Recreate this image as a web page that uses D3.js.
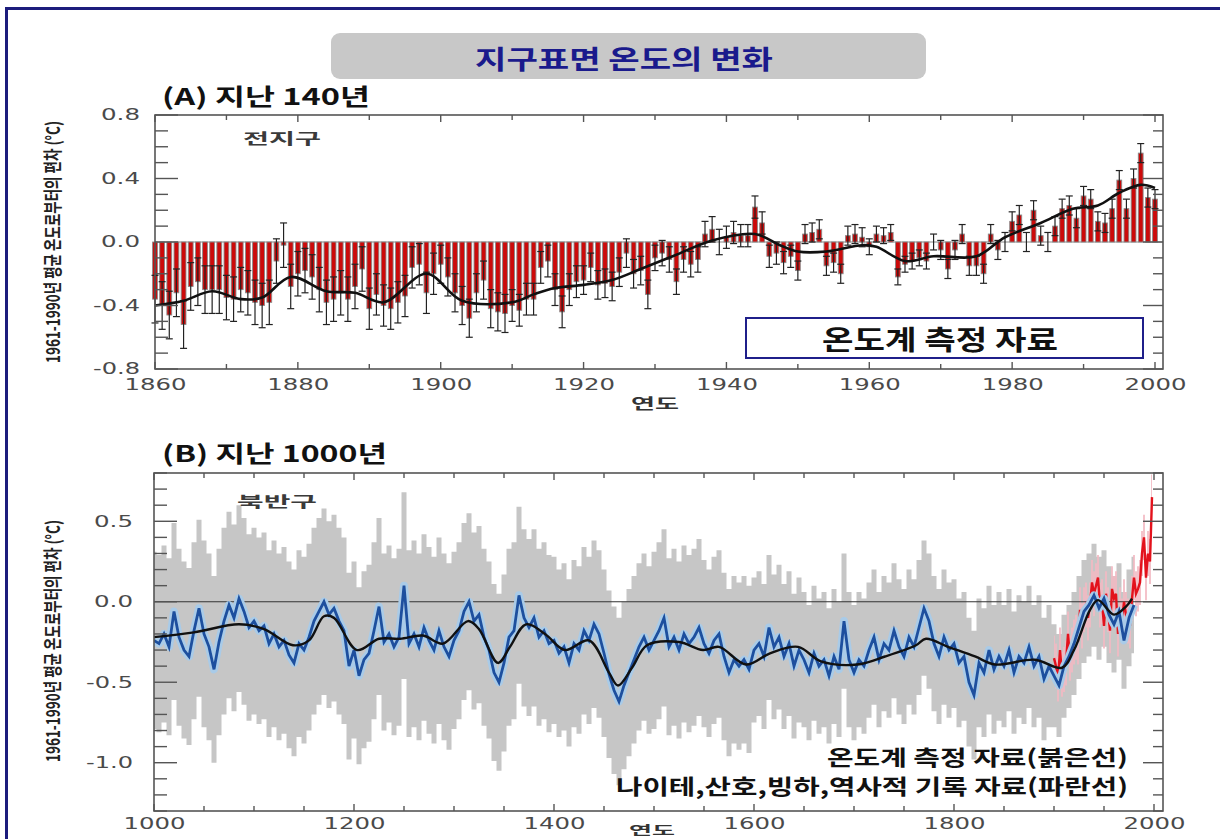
<!DOCTYPE html>
<html>
<head>
<meta charset="utf-8">
<script src="https://cdn.jsdelivr.net/npm/d3@7"></script>
<style>
  body { margin: 0; background: #fff; }
  svg { display: block; }
</style>
</head>
<body>
<div id="chart"></div>
<script>
// ---------- data ----------
// (A) global annual anomaly, 1860-2000 (one value per year)
const firstYearA = 1860;
const anomA = [
  -0.36, -0.40, -0.46, -0.32, -0.52, -0.28, -0.25, -0.30, -0.30, -0.30,
  -0.35, -0.36, -0.30, -0.32, -0.38, -0.40, -0.38, -0.12, -0.02, -0.28,
  -0.20, -0.18, -0.22, -0.30, -0.38, -0.36, -0.32, -0.36, -0.28, -0.17,
  -0.42, -0.33, -0.40, -0.42, -0.38, -0.34, -0.16, -0.14, -0.32, -0.20,
  -0.14, -0.22, -0.32, -0.40, -0.48, -0.32, -0.24, -0.42, -0.44, -0.45,
  -0.40, -0.43, -0.36, -0.36, -0.16, -0.12, -0.30, -0.44, -0.30, -0.25,
  -0.24, -0.16, -0.27, -0.26, -0.28, -0.19, -0.07, -0.20, -0.18, -0.33,
  -0.10, -0.07, -0.11, -0.25, -0.11, -0.14, -0.11, 0.05, 0.08, 0.00,
  0.03, 0.06, 0.04, 0.04, 0.22, 0.12, -0.09, -0.07, -0.13, -0.09,
  -0.18, 0.05, 0.06, 0.08, -0.15, -0.13, -0.20, 0.04, 0.05, 0.03,
  -0.03, 0.05, 0.04, 0.06, -0.22, -0.14, -0.12, -0.10, -0.12, 0.00,
  -0.05, -0.17, -0.05, 0.05, -0.15, -0.15, -0.20, 0.05, -0.05, 0.00,
  0.13, 0.17, 0.00, 0.20, 0.04, 0.00, 0.10, 0.21, 0.23, 0.15,
  0.29, 0.27, 0.13, 0.12, 0.21, 0.39, 0.21, 0.40, 0.56, 0.28,
  0.27
];
// error-bar half width per decade (1860s ... 2000)
const errA = [0.15, 0.14, 0.14, 0.13, 0.12, 0.10, 0.09, 0.08, 0.07, 0.06, 0.05, 0.06, 0.06, 0.06, 0.06];
// smoothed curve (year, value)
const smoothA = [
  [1860, -0.40], [1864, -0.37], [1868, -0.31], [1872, -0.36], [1875, -0.35], [1879, -0.22],
  [1884, -0.31], [1888, -0.32], [1892, -0.38], [1898, -0.20], [1903, -0.37], [1910, -0.38],
  [1913, -0.33], [1916, -0.29], [1920, -0.27], [1924, -0.24], [1928, -0.17], [1933, -0.08],
  [1938, 0.01], [1944, 0.05], [1947.5, -0.02], [1950, -0.06], [1954, -0.06], [1959, -0.02],
  [1961, -0.03], [1965, -0.12], [1969, -0.09], [1975, -0.09], [1979, 0.03], [1984, 0.12],
  [1988.5, 0.21], [1992, 0.23], [1995, 0.31], [1998, 0.36], [2000, 0.34]
];
const yTicksA = [-0.8, -0.4, 0.0, 0.4, 0.8];
const xTicksA = [1860, 1880, 1900, 1920, 1940, 1960, 1980, 2000];

// (B) northern hemisphere reconstruction, 1000-1980, one value every 5 years
const firstYearB = 1000, stepB = 5;
const proxyB = [
  -0.24, -0.26, -0.20, -0.28, -0.06, -0.22, -0.30, -0.34, -0.18, -0.04,
  -0.20, -0.28, -0.42, -0.25, -0.12, -0.02, -0.10, 0.02, -0.06, -0.16,
  -0.12, -0.18, -0.15, -0.26, -0.20, -0.28, -0.24, -0.33, -0.38, -0.26,
  -0.30, -0.22, -0.12, -0.06, 0.00, -0.08, -0.04, -0.12, -0.18, -0.40,
  -0.30, -0.46, -0.36, -0.32, -0.18, -0.03, -0.25, -0.20, -0.28, -0.22,
  0.10, -0.26, -0.20, -0.28, -0.16, -0.24, -0.30, -0.18, -0.28, -0.34,
  -0.24, -0.18, -0.06, 0.00, -0.12, -0.08, -0.22, -0.30, -0.44, -0.50,
  -0.38, -0.22, -0.18, 0.04, -0.10, -0.16, -0.10, -0.22, -0.18, -0.26,
  -0.24, -0.32, -0.28, -0.38, -0.26, -0.30, -0.18, -0.24, -0.14, -0.20,
  -0.32, -0.45, -0.55, -0.62, -0.52, -0.44, -0.36, -0.28, -0.22, -0.30,
  -0.24, -0.18, -0.10, -0.28, -0.22, -0.30, -0.20, -0.26, -0.22, -0.16,
  -0.26, -0.32, -0.24, -0.20, -0.34, -0.44, -0.36, -0.40, -0.36, -0.42,
  -0.30, -0.26, -0.34, -0.16, -0.28, -0.22, -0.34, -0.26, -0.40, -0.30,
  -0.36, -0.44, -0.32, -0.40, -0.36, -0.46, -0.34, -0.42, -0.12, -0.36,
  -0.44, -0.36, -0.40, -0.30, -0.22, -0.36, -0.26, -0.30, -0.18, -0.28,
  -0.34, -0.22, -0.28, -0.16, -0.04, -0.12, -0.26, -0.34, -0.22, -0.30,
  -0.26, -0.38, -0.34, -0.50, -0.58, -0.38, -0.44, -0.30, -0.42, -0.34,
  -0.40, -0.30, -0.44, -0.34, -0.38, -0.28, -0.40, -0.34, -0.48, -0.40,
  -0.46, -0.52, -0.40, -0.34, -0.26, -0.16, -0.06, -0.02, 0.04, -0.04,
  0.02, -0.08, -0.14, -0.06, -0.24, -0.10, -0.02
];
// 2-sigma half width of the grey band, one value per 50 years (1000 ... 1950)
const sigmaB = [0.55, 0.58, 0.58, 0.58, 0.55, 0.58, 0.55, 0.55, 0.52, 0.52,
                0.55, 0.52, 0.45, 0.42, 0.42, 0.42, 0.40, 0.38, 0.32, 0.30];
// smoothed reconstruction (year, value)
const smoothB = [
  [1000, -0.22], [1040, -0.19], [1085, -0.14], [1110, -0.17], [1139, -0.27], [1155, -0.24],
  [1170, -0.09], [1180, -0.10], [1203, -0.30], [1225, -0.23], [1246, -0.23], [1269, -0.21],
  [1289, -0.26], [1314, -0.12], [1325, -0.17], [1344, -0.38], [1356, -0.28], [1372, -0.14],
  [1391, -0.20], [1411, -0.30], [1435, -0.24], [1455, -0.44], [1464, -0.52], [1478, -0.41],
  [1493, -0.27], [1525, -0.25], [1549, -0.30], [1565, -0.28], [1592, -0.39], [1616, -0.32],
  [1644, -0.28], [1667, -0.37], [1703, -0.39], [1731, -0.34], [1762, -0.27], [1772, -0.23],
  [1794, -0.28], [1821, -0.34], [1841, -0.39], [1881, -0.36], [1908, -0.41], [1920, -0.30],
  [1936, -0.05], [1944, 0.01], [1960, -0.08], [1972, -0.03], [1978, 0.02]
];
// instrumental NH record, 1900-1998, every 2 years
const firstYearRed = 1900, stepRed = 2;
const instrB = [
  -0.35, -0.40, -0.48, -0.30, -0.45, -0.42, -0.38, -0.20, -0.35, -0.30,
  -0.25, -0.22, -0.25, -0.05, -0.15, -0.05, -0.02, -0.10, -0.02, 0.12,
  0.05, 0.10, 0.15, -0.02, 0.00, -0.15, 0.05, -0.05, -0.18, 0.08,
  0.02, 0.05, -0.20, -0.05, -0.12, 0.00, -0.08, -0.12, -0.15, 0.02,
  0.15, 0.05, 0.08, 0.12, 0.30, 0.40, 0.15, 0.30, 0.25, 0.65
];
const instrSigma = 0.14;
const yTicksB = [-1.0, -0.5, 0.0, 0.5];
const xTicksB = [1000, 1200, 1400, 1600, 1800, 2000];

// ---------- drawing ----------
const W = 1220, H = 839;
const KR = "'Noto Sans CJK KR', 'Noto Sans', sans-serif";
const NUM = "'DejaVu Sans', sans-serif";

const svg = d3.select("#chart").append("svg")
  .attr("width", W).attr("height", H)
  .attr("viewBox", `0 0 ${W} ${H}`);

// outer navy frame
svg.append("rect")
  .attr("x", 6.5).attr("y", 8.5)
  .attr("width", W + 20).attr("height", H + 20)
  .attr("fill", "none").attr("stroke", "#1c1c7c").attr("stroke-width", 3);

// title plate
svg.append("rect")
  .attr("x", 331).attr("y", 33).attr("width", 595).attr("height", 46)
  .attr("rx", 9).attr("fill", "#c8c8c8");
svg.append("text")
  .attr("x", 624).attr("y", 57)
  .attr("text-anchor", "middle").attr("dominant-baseline", "central")
  .attr("font-family", KR).attr("font-size", 26).attr("font-weight", 700)
  .attr("fill", "#1a1a8c")
  .attr("textLength", 298).attr("lengthAdjust", "spacingAndGlyphs")
  .text("지구표면 온도의 변화");

function label(x, y, txt, opts) {
  const t = svg.append("text")
    .attr("x", x).attr("y", y)
    .attr("dominant-baseline", "central")
    .attr("font-family", opts.family || KR)
    .attr("font-size", opts.size)
    .attr("font-weight", opts.weight || 400)
    .attr("fill", opts.fill || "#111")
    .attr("text-anchor", opts.anchor || "start")
    .text(txt);
  if (opts.len) t.attr("textLength", opts.len).attr("lengthAdjust", "spacingAndGlyphs");
  if (opts.rotate) t.attr("transform", `rotate(-90,${x},${y})`);
  return t;
}

// generic axis frame with inward ticks
function drawFrame(g, x, y, left, right, top, bottom, o) {
  g.append("rect")
    .attr("x", left).attr("y", top)
    .attr("width", right - left).attr("height", bottom - top)
    .attr("fill", "none").attr("stroke", "#555").attr("stroke-width", 1.6);

  const yMinor = d3.range(Math.round(y.domain()[0] * 10), Math.round(y.domain()[1] * 10) + 1).map(d => d / 10);
  const tickG = g.append("g").attr("stroke", "#555").attr("stroke-width", 1.4);
  yMinor.forEach(v => {
    const major = o.yMajor.some(m => Math.abs(m - v) < 1e-6);
    const yy = y(v);
    tickG.append("line").attr("x1", left).attr("x2", left + (major ? 23 : 13)).attr("y1", yy).attr("y2", yy);
    tickG.append("line").attr("x1", right).attr("x2", right - (major ? 20 : 10)).attr("y1", yy).attr("y2", yy);
  });
  o.xMinor.forEach(v => {
    const xx = x(v);
    const major = o.xMajor.includes(v);
    tickG.append("line").attr("x1", xx).attr("x2", xx).attr("y1", bottom).attr("y2", bottom - (major ? 7 : 5));
    tickG.append("line").attr("x1", xx).attr("x2", xx).attr("y1", top).attr("y2", top + (major ? 7 : 5));
  });

  // tick labels through d3 axes
  const yAxis = d3.axisLeft(y).tickValues(o.yMajor).tickSize(0).tickPadding(0)
    .tickFormat(d3.format(".1f"));
  const ga = g.append("g").attr("transform", `translate(${o.yLabelRight},0)`).call(yAxis);
  ga.select(".domain").remove();
  ga.selectAll("text")
    .attr("font-family", NUM).attr("font-size", 15).attr("fill", "#4a4a4a")
    .text(d => d3.format(".1f")(d).replace("−", "-"))
    .attr("textLength", d => (d < 0 ? 8 : 0) + 13 * 3)
    .attr("lengthAdjust", "spacingAndGlyphs");

  const xAxis = d3.axisBottom(x).tickValues(o.xMajor).tickSize(0).tickPadding(0)
    .tickFormat(d3.format("d"));
  const gx = g.append("g").attr("transform", `translate(0,${o.xLabelY})`).call(xAxis);
  gx.select(".domain").remove();
  gx.selectAll("text")
    .attr("dy", 0).attr("dominant-baseline", "central")
    .attr("font-family", NUM).attr("font-size", 15).attr("fill", "#4a4a4a")
    .attr("textLength", 62).attr("lengthAdjust", "spacingAndGlyphs");
}

// ===== panel A =====
const xA = d3.scaleLinear().domain([1860, 2000]).range([155, 1155]);
const yA = d3.scaleLinear().domain([-0.8, 0.8]).range([369, 115]);
const gA = svg.append("g");

label(162, 95, "(A) 지난 140년", { size: 23, weight: 700, len: 208, fill: "#111" });

const barsA = anomA.map((v, i) => ({ year: firstYearA + i, v, e: errA[Math.floor(i / 10)] }));

gA.append("line")
  .attr("x1", xA(1860)).attr("x2", 1163).attr("y1", yA(0)).attr("y2", yA(0))
  .attr("stroke", "#888").attr("stroke-width", 1);

gA.selectAll("rect.bar").data(barsA).enter().append("rect")
  .attr("class", "bar")
  .attr("x", d => xA(d.year) - 2.4)
  .attr("width", 4.8)
  .attr("y", d => yA(Math.max(0, d.v)))
  .attr("height", d => Math.abs(yA(d.v) - yA(0)))
  .attr("fill", "#cc0a0a").attr("stroke", "#8a8a8a").attr("stroke-width", 0.9);

const errG = gA.append("g").attr("stroke", "#222").attr("stroke-width", 1.2);
barsA.forEach(d => {
  const x = xA(d.year), y1 = yA(d.v + d.e), y2 = yA(d.v - d.e);
  errG.append("line").attr("x1", x).attr("x2", x).attr("y1", y1).attr("y2", y2);
  errG.append("line").attr("x1", x - 3.5).attr("x2", x + 3.5).attr("y1", y1).attr("y2", y1);
  errG.append("line").attr("x1", x - 3.5).attr("x2", x + 3.5).attr("y1", y2).attr("y2", y2);
});

gA.append("path")
  .datum(smoothA)
  .attr("fill", "none").attr("stroke", "#111").attr("stroke-width", 2.6)
  .attr("d", d3.line().x(d => xA(d[0])).y(d => yA(d[1])).curve(d3.curveCatmullRom.alpha(0.5)));

drawFrame(gA, xA, yA, 155, 1163, 115, 369, {
  yMajor: yTicksA,
  xMajor: xTicksA,
  xMinor: d3.range(1860, 2001, 10),
  yLabelRight: 140,
  xLabelY: 385
});

label(243, 137, "전지구", { size: 15, weight: 700, len: 78, fill: "#3a3a3a" });
label(51, 242, "1961-1990년 평균 온도로부터의 편차 (°C)", { size: 19, weight: 700, len: 242, anchor: "middle", rotate: true, fill: "#222" });
label(655, 402, "연도", { size: 15, weight: 700, len: 48, anchor: "middle", fill: "#333" });

gA.append("rect")
  .attr("x", 746).attr("y", 318).attr("width", 397).attr("height", 40)
  .attr("fill", "#fff").attr("stroke", "#1f1f8a").attr("stroke-width", 2);
label(940, 338, "온도계 측정 자료", { size: 27, weight: 700, len: 236, anchor: "middle", fill: "#111" });

// ===== panel B =====
const xB = d3.scaleLinear().domain([1000, 2000]).range([154, 1154]);
const yB = d3.scaleLinear().domain([-1.3, 0.8]).range([811, 473]);
const gB = svg.append("g");

label(162, 452, "(B) 지난 1000년", { size: 23, weight: 700, len: 225, fill: "#111" });

svg.append("clipPath").attr("id", "clipB")
  .append("rect").attr("x", 154).attr("y", 473).attr("width", 1009).attr("height", 338);
const plotB = gB.append("g").attr("clip-path", "url(#clipB)");

const proxy = proxyB.map((v, i) => {
  const year = firstYearB + i * stepB;
  return { year, v, s: sigmaB[Math.min(sigmaB.length - 1, Math.floor((year - 1000) / 50))] };
});
const instr = instrB.map((v, i) => ({ year: firstYearRed + i * stepRed, v }));

// grey uncertainty band (stepped, like the annual bars of the original)
plotB.append("path")
  .datum(proxy)
  .attr("fill", "#c6c6c6")
  .attr("d", d3.area().x(d => xB(d.year)).y0(d => yB(d.v - d.s)).y1(d => yB(d.v + d.s)).curve(d3.curveStep));

// pink band around the instrumental record
plotB.append("path")
  .datum(instr)
  .attr("fill", "#f2b9c2").attr("opacity", 0.85)
  .attr("d", d3.area().x(d => xB(d.year)).y0(d => yB(d.v - instrSigma)).y1(d => yB(d.v + instrSigma)).curve(d3.curveStep));

// zero line
plotB.append("line")
  .attr("x1", 154).attr("x2", 1163).attr("y1", yB(0)).attr("y2", yB(0))
  .attr("stroke", "#333").attr("stroke-width", 1.2);

const lineB = d3.line().x(d => xB(d.year)).y(d => yB(d.v));

plotB.append("path").datum(instr)
  .attr("fill", "none").attr("stroke", "#e3121c").attr("stroke-width", 2.4)
  .attr("d", lineB);

plotB.append("path").datum(proxy)
  .attr("fill", "none").attr("stroke", "#a9cbe8").attr("stroke-width", 8)
  .attr("stroke-linejoin", "round").attr("d", lineB);
plotB.append("path").datum(proxy)
  .attr("fill", "none").attr("stroke", "#1d4f9e").attr("stroke-width", 2.8)
  .attr("d", lineB);

plotB.append("path")
  .datum(smoothB)
  .attr("fill", "none").attr("stroke", "#111").attr("stroke-width", 2.4)
  .attr("d", d3.line().x(d => xB(d[0])).y(d => yB(d[1])).curve(d3.curveCatmullRom.alpha(0.5)));

drawFrame(gB, xB, yB, 154, 1163, 473, 811, {
  yMajor: yTicksB,
  xMajor: xTicksB,
  xMinor: d3.range(1000, 2001, 50),
  yLabelRight: 133,
  xLabelY: 824
});

label(237, 500, "북반구", { size: 15, weight: 700, len: 80, fill: "#3a3a3a" });
label(51, 641, "1961-1990년 평균 온도로부터의 편차 (°C)", { size: 19, weight: 700, len: 242, anchor: "middle", rotate: true, fill: "#222" });
label(652, 829, "연도", { size: 12, weight: 700, len: 46, anchor: "middle", fill: "#333" });

label(1128, 756, "온도계 측정 자료(붉은선)", { size: 21, weight: 700, len: 301, anchor: "end", fill: "#111" });
label(1128, 785, "나이테,산호,빙하,역사적 기록 자료(파란선)", { size: 21, weight: 700, len: 512, anchor: "end", fill: "#111" });
</script>
</body>
</html>
